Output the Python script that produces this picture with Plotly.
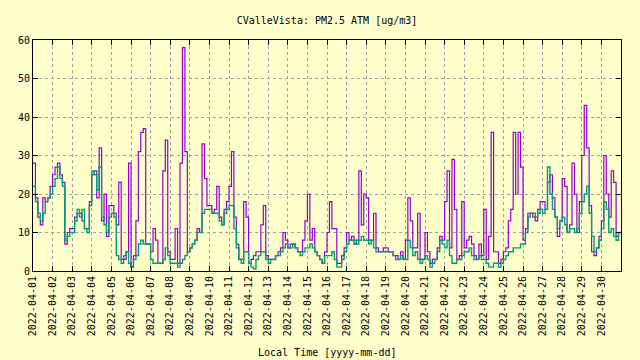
import pandas as pd
import plotly.graph_objects as go

title_text = "CValleVista: PM2.5 ATM [ug/m3]"
x_title = "Local Time [yyyy-mm-dd]"
start_date = "2022-04-01"
n_days = 30
samples_per_day = 8  # 3-hourly readings

# Channel B (green), 8 readings per day, days 1..30
chan_b = [
    22, 18, 15, 13, 15, 18, 19, 20,
    22, 24, 27, 24, 22, 8, 9, 10,
    10, 13, 16, 14, 16, 11, 10, 17,
    26, 25, 21, 27, 14, 12, 10, 14,
    15, 14, 4, 3, 2, 4, 5, 2,
    1, 3, 4, 7, 8, 7, 7, 7,
    3, 2, 2, 2, 2, 3, 6, 4,
    2, 2, 2, 1, 2, 3, 4, 5,
    6, 7, 8, 10, 10, 15, 16, 16,
    16, 15, 15, 15, 13, 12, 15, 16,
    17, 17, 11, 6, 3, 2, 5, 5,
    2, 1, 0.5, 3, 4, 5, 5, 3,
    2, 3, 3, 4, 4, 5, 6, 7,
    6, 6, 7, 6, 5, 4, 5, 6,
    6, 7, 6, 5, 4, 3, 2, 4,
    4, 4, 5, 3, 1, 1, 3, 5,
    7, 8, 8, 8, 7, 8, 9, 8,
    8, 7, 8, 6, 5, 5, 5, 5,
    5, 5, 5, 4, 3, 3, 4, 3,
    3, 8, 6, 4, 5, 3, 2, 3,
    4, 3, 1, 2, 3, 5, 8, 7,
    6, 8, 4, 2, 2, 3, 3, 4,
    5, 5, 6, 4, 3, 3, 4, 3,
    3, 2, 1, 1, 2, 2, 1, 2,
    3, 4, 5, 5, 6, 6, 6, 7,
    7, 10, 14, 15, 15, 14, 15, 16,
    15, 16, 27, 20, 16, 14, 11, 13,
    14, 12, 10, 11, 11, 10, 11, 15,
    18, 20, 22, 15, 9, 5, 6, 8,
    11, 18, 16, 10, 11, 9, 8, 10,
]

# Channel A (purple)
chan_a = [
    28, 19, 14, 12, 19, 18, 19, 22,
    25, 27, 28, 25, 23, 7, 10, 11,
    11, 14, 15, 15, 13, 11, 11, 18,
    25, 26, 19, 32, 13, 20, 9, 17,
    17, 15, 12, 23, 3, 3, 5, 28,
    1, 4, 13, 31, 36, 37, 7, 7,
    5, 11, 8, 2, 2, 26, 34, 5,
    3, 3, 11, 2, 28, 58, 31, 5,
    6, 7, 8, 11, 10, 33, 24, 17,
    17, 15, 16, 22, 14, 12, 16, 18,
    22, 31, 14, 7, 3, 3, 18, 14,
    2, 3, 4, 5, 5, 12, 17, 4,
    3, 3, 3, 4, 5, 6, 10, 8,
    6, 7, 7, 6, 5, 5, 8, 13,
    20, 8, 11, 5, 4, 3, 2, 5,
    10, 18, 11, 11, 2, 2, 4, 6,
    10, 8, 9, 7, 8, 26, 12, 20,
    19, 8, 8, 15, 6, 5, 5, 6,
    6, 5, 5, 4, 4, 3, 5, 3,
    8, 19, 13, 6, 6, 15, 3, 3,
    10, 5, 2, 3, 3, 6, 9, 8,
    18, 26, 6, 29, 16, 3, 4, 18,
    6, 8, 9, 7, 4, 3, 7, 4,
    16, 3, 9, 36, 5, 5, 2, 3,
    5, 6, 13, 16, 36, 20, 36, 27,
    8, 11, 15, 15, 14, 13, 16, 18,
    18, 16, 23, 25, 19, 14, 9, 13,
    24, 22, 10, 12, 28, 20, 10, 18,
    30, 43, 32, 17, 5, 4, 6, 9,
    13, 30, 20, 14, 26, 23, 9, 10,
]

y_ticks = [0, 10, 20, 30, 40, 50, 60]

times = pd.date_range(start_date, periods=n_days * samples_per_day + 1, freq="3h")
day_ticks = pd.date_range(start_date, periods=n_days, freq="D")
x_end = pd.Timestamp(start_date) + pd.Timedelta(days=n_days)

# repeat last value at the end so the final step reaches the right border
a_vals = chan_a + [chan_a[-1]]
b_vals = chan_b + [chan_b[-1]]

bg = "#ffffcc"
fnt = dict(family="DejaVu Sans Mono", size=10, color="black")
grid = dict(showgrid=True, gridcolor="#a0a0a0", griddash="3px,3px", gridwidth=1)

fig = go.Figure()
fig.add_trace(go.Scatter(x=times, y=a_vals, mode="lines", line=dict(color="#9400d3", width=1.2, shape="hv"),
                         showlegend=False, hoverinfo="skip"))
fig.add_trace(go.Scatter(x=times, y=b_vals, mode="lines", line=dict(color="#009e73", width=1.4, shape="hv"),
                         showlegend=False, hoverinfo="skip"))

fig.update_layout(
    width=640, height=360,
    paper_bgcolor=bg, plot_bgcolor=bg,
    margin=dict(l=33, r=19, t=40, b=89, autoexpand=False),
    font=fnt,
    title=dict(text=title_text, x=0.5, xref="paper", xanchor="center",
               y=1 - 20 / 360, yref="container", yanchor="middle", font=fnt),
    xaxis=dict(
        range=[times[0], x_end], tickvals=day_ticks, ticktext=[d.strftime("%Y-%m-%d") for d in day_ticks],
        tickangle=-90, ticks="inside", ticklen=5, tickcolor="black", automargin=False,
        showline=True, linecolor="black", linewidth=1, mirror="allticks",
        zeroline=False, tickfont=fnt, **grid,
    ),
    yaxis=dict(
        range=[0, 60], tickvals=y_ticks, ticks="inside", ticklen=5, tickcolor="black", automargin=False,
        showline=True, linecolor="black", linewidth=1, mirror="allticks",
        zeroline=False, tickfont=fnt, **grid,
    ),
    annotations=[dict(text=x_title, xref="paper", yref="paper", x=0.5, y=(271 - 352) / 231,
                      xanchor="center", yanchor="middle", showarrow=False, font=fnt)],
)

fig.write_html("out.html", config={"displayModeBar": False},
               post_script="document.body.style.margin='0';document.body.style.background='" + bg + "';")
